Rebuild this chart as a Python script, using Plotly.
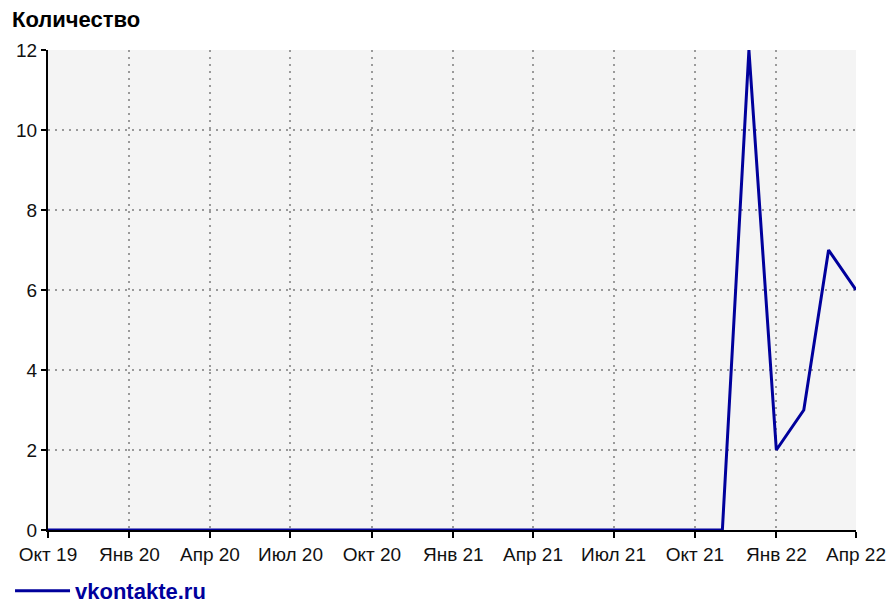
import plotly.graph_objects as go

months = ["2019-10-01","2019-11-01","2019-12-01","2020-01-01","2020-02-01","2020-03-01",
          "2020-04-01","2020-05-01","2020-06-01","2020-07-01","2020-08-01","2020-09-01",
          "2020-10-01","2020-11-01","2020-12-01","2021-01-01","2021-02-01","2021-03-01",
          "2021-04-01","2021-05-01","2021-06-01","2021-07-01","2021-08-01","2021-09-01",
          "2021-10-01","2021-11-01","2021-12-01","2022-01-01","2022-02-01","2022-03-01",
          "2022-04-01"]
counts = [0,0,0,0,0,0, 0,0,0,0,0,0, 0,0,0,0,0,0, 0,0,0,0,0,0, 0,0,12,2,3,7,6]

tick_dates = ["2019-10-01","2020-01-01","2020-04-01","2020-07-01","2020-10-01",
              "2021-01-01","2021-04-01","2021-07-01","2021-10-01","2022-01-01","2022-04-01"]
tick_labels = ["Окт 19","Янв 20","Апр 20","Июл 20","Окт 20","Янв 21","Апр 21",
               "Июл 21","Окт 21","Янв 22","Апр 22"]
y_ticks = [0, 2, 4, 6, 8, 10, 12]

series_name = "vkontakte.ru"
color = "#00009c"

fig = go.Figure()
fig.add_trace(go.Scatter(x=months, y=counts, mode="lines", name=series_name,
                         line=dict(color=color, width=3), showlegend=True,
                         cliponaxis=False))

font = "Liberation Sans, Arial, sans-serif"
grid = dict(showgrid=True, gridcolor="#9a9a9a", griddash="2px,5px", gridwidth=1.5)
fig.update_layout(
    width=888, height=606,
    margin=dict(l=48, r=32, t=50, b=76, autoexpand=False),
    paper_bgcolor="white", plot_bgcolor="#f4f4f4",
    font=dict(family=font, size=19, color="#111"),
    title=dict(text="<b>Количество</b>", xref="container", yref="container",
               x=12/888, y=1-19/606, xanchor="left", yanchor="middle",
               font=dict(family=font, size=22, color="black")),
    showlegend=True,
    legend=dict(orientation="h", x=-0.047, y=-0.127, xanchor="left", yanchor="middle",
                bgcolor="rgba(0,0,0,0)", itemwidth=55,
                font=dict(family=font, size=22, color=color, weight="bold")),
    xaxis=dict(type="date", range=["2019-10-01","2022-04-01"],
               tickvals=tick_dates, ticktext=tick_labels, automargin=False,
               showline=True, linecolor="black", linewidth=2,
               ticks="outside", ticklen=6, tickcolor="black", tickwidth=2,
               zeroline=False, tickfont=dict(size=19), **grid),
    yaxis=dict(range=[0, 12], tickvals=y_ticks, automargin=False,
               showline=True, linecolor="black", linewidth=2,
               ticks="outside", ticklen=5, tickcolor="black", tickwidth=2,
               zeroline=False, tickfont=dict(size=19), **grid),
)

fig.write_html("out.html", config={"displayModeBar": False},
               post_script="document.body.style.margin='0';document.body.style.overflow='hidden';")
